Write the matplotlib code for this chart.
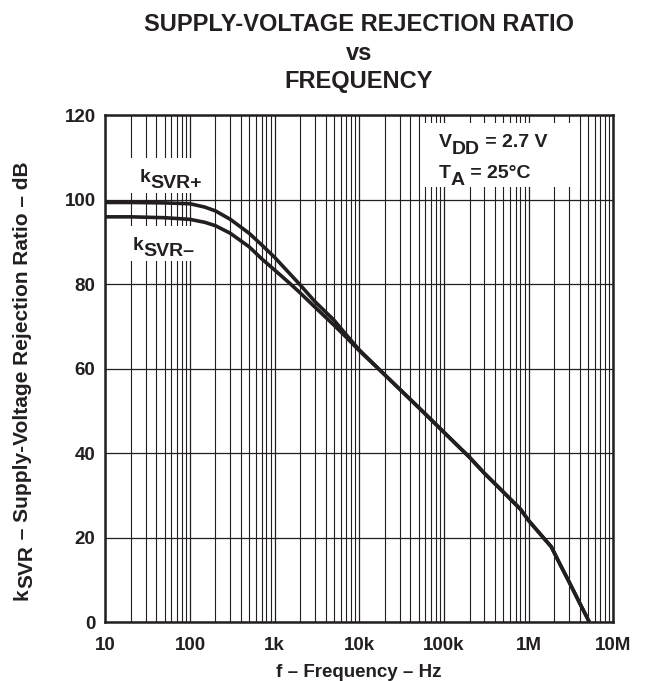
import matplotlib
matplotlib.use("Agg")
import matplotlib.pyplot as plt
from matplotlib.patches import Rectangle
from matplotlib.ticker import LogLocator, NullFormatter, FixedLocator

plt.rcParams['font.family'] = ['Liberation Sans', 'DejaVu Sans']
plt.rcParams['font.weight'] = 'bold'

ink = '#231f20'

# data (Hz, dB)
freq = [10, 20, 50, 100, 150, 200, 300, 500, 700, 1e3, 1.5e3, 2e3, 3e3, 5e3, 7e3,
        1e4, 2e4, 5e4, 1e5, 2e5, 3e5, 5e5, 8e5, 1e6, 1.4e6, 1.85e6, 2.3e6, 3e6, 4e6, 5.2e6]
ksvr_pos = [99.3, 99.3, 99.2, 99.0, 98.2, 97.3, 95.3, 92.0, 89.3, 86.3, 82.5, 79.8, 75.8, 71.5, 68.0,
            64.4, 58.5, 50.8, 44.9, 39.0, 35.2, 30.8, 26.7, 24.0, 20.6, 17.8, 14.0, 9.5, 4.5, 0.0]
ksvr_neg = [95.9, 95.9, 95.7, 95.3, 94.6, 93.8, 92.0, 88.8, 86.0, 83.3, 80.2, 77.9, 74.5, 70.3, 67.4,
            64.2, 58.5, 50.8, 44.9, 39.0, 35.2, 30.8, 26.7, 24.0, 20.6, 17.8, 14.0, 9.5, 4.5, 0.0]

x_ticks = [10, 100, 1e3, 1e4, 1e5, 1e6, 1e7]
x_labels = ['10', '100', '1k', '10k', '100k', '1M', '10M']
y_ticks = [0, 20, 40, 60, 80, 100, 120]

title_lines = ['SUPPLY-VOLTAGE REJECTION RATIO', 'vs', 'FREQUENCY']


def chain_text(ax, x, y, parts, size):
    # pieces of text placed one after another, (text, drop in points)
    s, d = parts[0]
    t = ax.text(x, y, s, fontsize=size, va='baseline', zorder=4, color=ink)
    prev = d
    for s, d in parts[1:]:
        t = ax.annotate(s, xy=(1, 0), xycoords=t, xytext=(0, prev - d),
                        textcoords='offset points', va='bottom', fontsize=size,
                        zorder=4, color=ink)
        prev = d
    return t


def chain_vertical(fig, ax, x, y, parts, size):
    s, d = parts[0]
    t = fig.text(x, y, s, rotation=90, ha='left', va='bottom', fontsize=size, color=ink)
    prev = d
    for s, d in parts[1:]:
        t = ax.annotate(s, xy=(0, 1), xycoords=t, xytext=(d - prev, 0),
                        textcoords='offset points', ha='left', va='bottom',
                        rotation=90, fontsize=size, color=ink, annotation_clip=False)
        prev = d
    return t


fig = plt.figure(figsize=(6.47, 6.81), dpi=100)
ax = fig.add_axes([0.1628, 0.0866, 0.7852, 0.7445])

ax.plot(freq, ksvr_pos, color=ink, lw=2.6, zorder=3, solid_capstyle='butt')
ax.plot(freq, ksvr_neg, color=ink, lw=2.6, zorder=3, solid_capstyle='butt')

ax.set_xscale('log')
ax.set_xlim(10, 1e7)
ax.set_ylim(0, 120)
ax.xaxis.set_major_locator(FixedLocator(x_ticks))
ax.set_xticklabels(x_labels)
ax.xaxis.set_minor_locator(LogLocator(base=10, subs=range(2, 10), numticks=30))
ax.xaxis.set_minor_formatter(NullFormatter())
ax.set_yticks(y_ticks)
ax.set_axisbelow(True)
ax.grid(which='major', axis='both', color=ink, lw=0.9)
ax.grid(which='minor', axis='x', color=ink, lw=0.8)
ax.tick_params(which='both', length=0, labelsize=13.5, colors=ink)
ax.tick_params(axis='x', pad=11)
ax.tick_params(axis='y', pad=7)
for sp in ax.spines.values():
    sp.set_linewidth(1.8)
    sp.set_color(ink)

# white boxes behind the labels
for bx in [(0.033, 0.846, 0.183, 0.069), (0.039, 0.712, 0.157, 0.069), (0.623, 0.858, 0.311, 0.126)]:
    ax.add_patch(Rectangle(bx[:2], bx[2], bx[3], transform=ax.transAxes,
                           facecolor='white', edgecolor='none', zorder=1))

chain_text(ax, 25.7, 104.1, [('k', 0), ('SVR+', 4.5)], 14)
chain_text(ax, 21.2, 88.0, [('k', 0), ('SVR\u2013', 4.5)], 14)
chain_text(ax, 8.7e4, 112.4, [('V', 0), ('DD', 5), (' = 2.7 V', 0)], 14)
chain_text(ax, 8.7e4, 105.1, [('T', 0), ('A', 5), (' = 25\u00b0C', 0)], 14)

chain_vertical(fig, ax, 0.02, 0.119,
               [('k', 0), ('SVR', 3), (' \u2013 Supply-Voltage Rejection Ratio \u2013 dB', 0)], 15)

fig.text(0.555, 0.006, 'f \u2013 Frequency \u2013 Hz', ha='center', va='baseline',
         fontsize=13.5, color=ink)

for line, yb in zip(title_lines, [0.9545, 0.9125, 0.8703]):
    fig.text(0.555, yb, line, ha='center', va='baseline', fontsize=17, color=ink)

fig.savefig('out.png', dpi=100)
